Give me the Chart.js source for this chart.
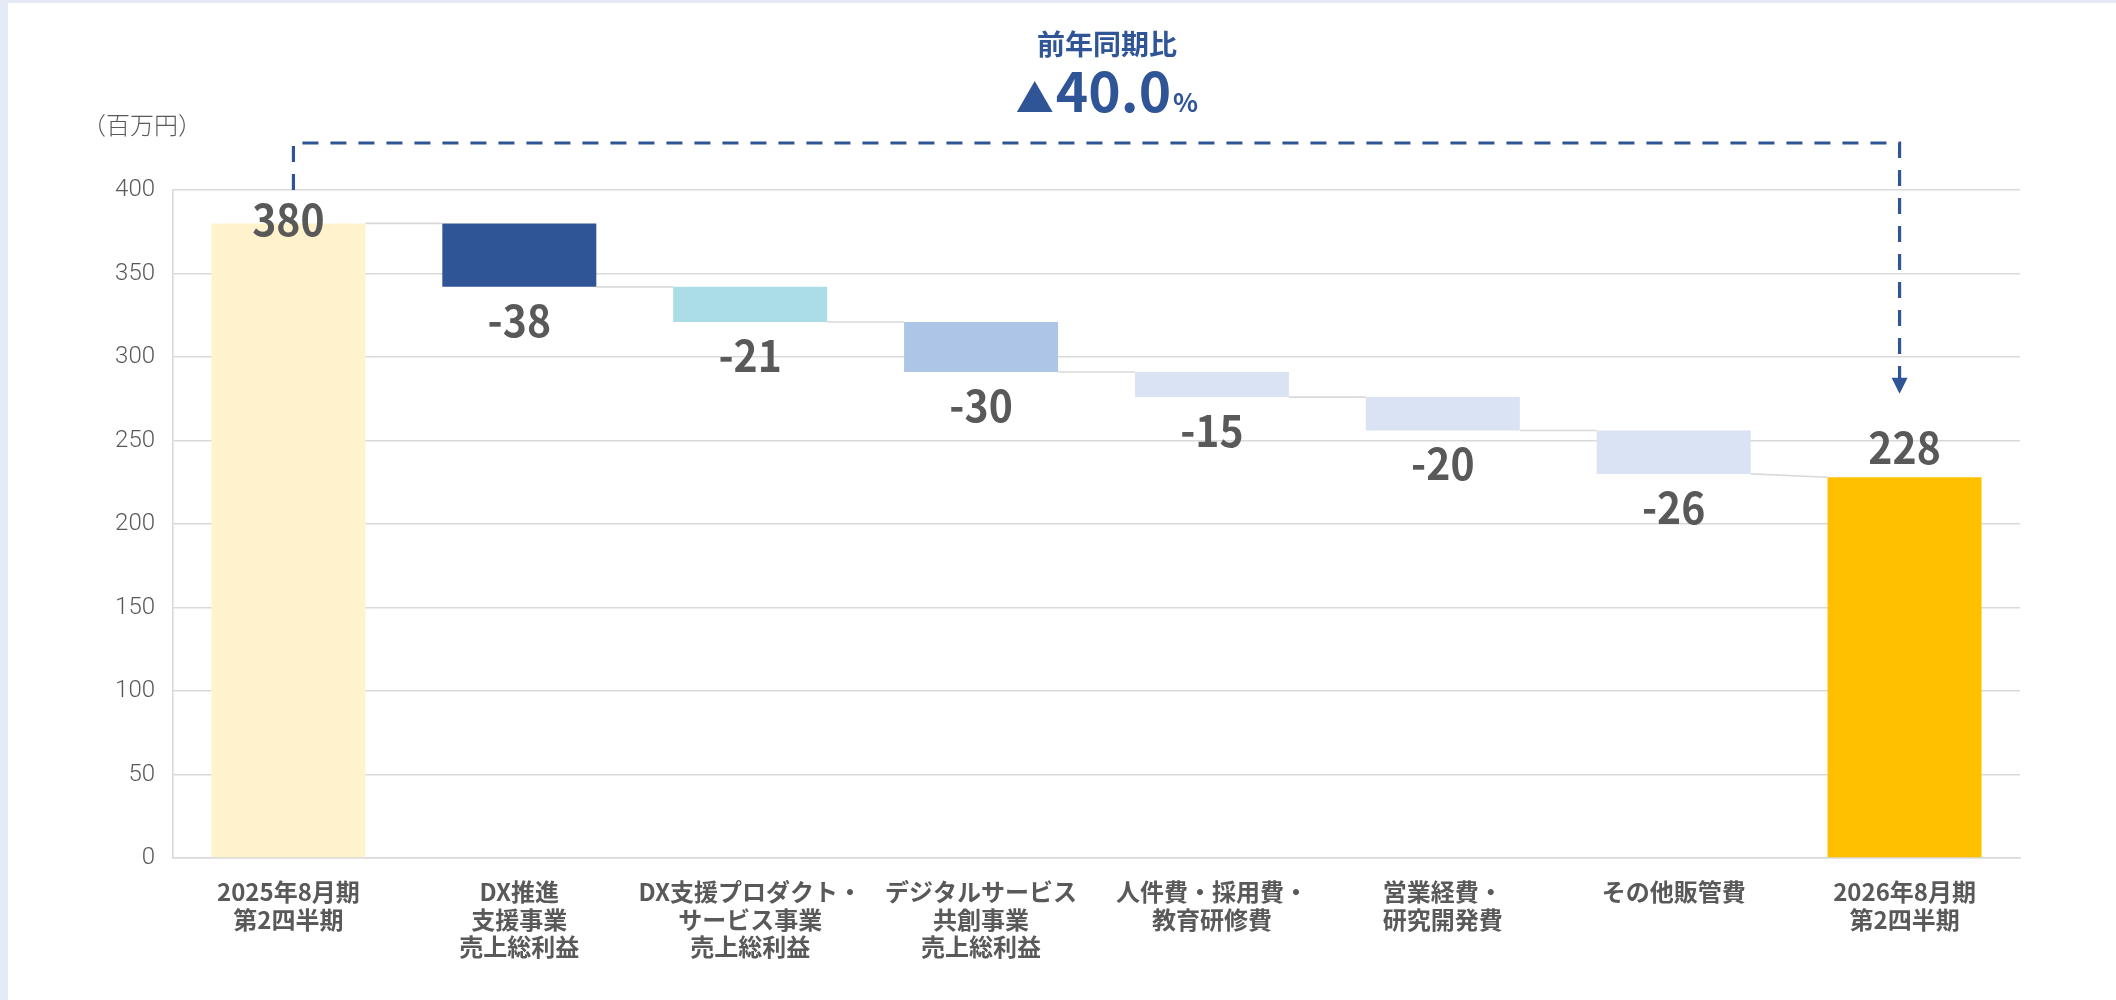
<!DOCTYPE html>
<html><head><meta charset="utf-8">
<script src="https://cdn.jsdelivr.net/npm/chart.js@4.4.1/dist/chart.umd.min.js"></script>
<style>
html,body{margin:0;padding:0;background:#e4eaf6;width:2116px;height:1000px;overflow:hidden}
#panel{position:absolute;left:8px;top:3px;width:2108px;height:997px;background:#fff}
canvas{display:block}
</style></head><body>
<div id="panel"><canvas id="c" width="2108" height="997"></canvas></div>
<script>
// ---- data ----
const categories = [
  ['2025年8月期','第2四半期'],
  ['DX推進','支援事業','売上総利益'],
  ['DX支援プロダクト・','サービス事業','売上総利益'],
  ['デジタルサービス','共創事業','売上総利益'],
  ['人件費・採用費・','教育研修費'],
  ['営業経費・','研究開発費'],
  ['その他販管費'],
  ['2026年8月期','第2四半期']
];
const startValue = 380;
const changes = [-38, -21, -30, -15, -20, -26];
const endValue = 228;
const yMin = 0, yMax = 400, yStep = 50;
const barColors = ['#FFF2CC','#2F5597','#ABDDE6','#ADC6E7','#DAE3F3','#DAE3F3','#DAE3F3','#FFC000'];
const yoyTitle = '前年同期比';
const yoyMark = '▲';
const yoyValue = '40.0';
const yoyUnit = '%';
const unitLabel = '（百万円）';
const arrowTipValue = 278;

// ---- derived ----
const ranges = [[0, startValue]];
const startLevels = [startValue];
const endLevels = [startValue];
let cum = startValue;
changes.forEach(d => { ranges.push([cum + d, cum]); startLevels.push(cum); endLevels.push(cum + d); cum += d; });
ranges.push([0, endValue]); startLevels.push(endValue); endLevels.push(endValue);
const labelValues = [startValue, ...changes, endValue];

const NARROW = '"Liberation Sans Narrow","Noto Sans CJK JP",sans-serif';
const CJK = '"Noto Sans CJK JP",sans-serif';
const BLUE = '#2F5597';
const GREY = '#595959';

const connectors = {
  id: 'connectors',
  beforeDatasetsDraw(chart) {
    const ctx = chart.ctx, y = chart.scales.y, els = chart.getDatasetMeta(0).data;
    ctx.save();
    ctx.strokeStyle = '#d9d9d9'; ctx.lineWidth = 1.6;
    for (let i = 0; i < els.length - 1; i++) {
      const a = els[i], b = els[i + 1];
      ctx.beginPath();
      ctx.moveTo(a.x + a.width / 2, y.getPixelForValue(endLevels[i]));
      ctx.lineTo(b.x - b.width / 2, y.getPixelForValue(startLevels[i + 1]));
      ctx.stroke();
    }
    ctx.restore();
  }
};

const dataLabels = {
  id: 'dataLabels',
  afterDatasetsDraw(chart) {
    const ctx = chart.ctx, y = chart.scales.y, els = chart.getDatasetMeta(0).data, ca = chart.chartArea;
    const sx = 0.93;
    ctx.save();
    ctx.font = 'bold 44px ' + CJK;
    ctx.fillStyle = GREY; ctx.textAlign = 'center'; ctx.textBaseline = 'middle';
    els.forEach((el, i) => {
      const v = labelValues[i];
      let cy;
      if (v < 0) cy = y.getPixelForValue(endLevels[i]) + 33;
      else cy = Math.max(y.getPixelForValue(ranges[i][1]) - 30, ca.top + 29);
      ctx.save();
      ctx.translate(el.x, cy); ctx.scale(sx, 1);
      ctx.fillText(String(v), 0, 0);
      ctx.restore();
    });
    ctx.restore();
  }
};

const annotations = {
  id: 'annotations',
  afterDraw(chart) {
    const ctx = chart.ctx, ca = chart.chartArea, els = chart.getDatasetMeta(0).data, y = chart.scales.y;
    ctx.save();
    // unit label
    ctx.font = '300 24px ' + CJK; ctx.fillStyle = GREY; ctx.textAlign = 'left'; ctx.textBaseline = 'middle';
    ctx.fillText(unitLabel, 74, ca.top - 65);
    // dashed bracket
    const x1 = els[0].x + 5, x2 = els[els.length - 1].x - 5;
    const yTop = ca.top - 47;
    const tip = y.getPixelForValue(arrowTipValue);
    ctx.strokeStyle = BLUE; ctx.lineWidth = 3.2; ctx.setLineDash([16, 12]);
    ctx.beginPath();
    ctx.moveTo(x1, ca.top); ctx.lineTo(x1, yTop); ctx.lineTo(x2, yTop); ctx.lineTo(x2, tip - 14);
    ctx.stroke();
    ctx.setLineDash([]);
    ctx.fillStyle = BLUE;
    ctx.beginPath(); ctx.moveTo(x2 - 8, tip - 16); ctx.lineTo(x2 + 8, tip - 16); ctx.lineTo(x2, tip); ctx.closePath(); ctx.fill();
    // title
    const cx = 1099;
    ctx.textAlign = 'center'; ctx.textBaseline = 'alphabetic';
    ctx.font = 'bold 28px ' + CJK;
    ctx.fillText(yoyTitle, cx, 52);
    // ▲40.0%
    ctx.textAlign = 'left';
    const fMark = '38px ' + CJK, fVal = 'bold 55px ' + CJK, fUnit = 'bold 26px ' + CJK;
    ctx.font = fMark; const wM = ctx.measureText(yoyMark).width;
    ctx.font = fVal; const wV = ctx.measureText(yoyValue).width;
    ctx.font = fUnit; const wU = ctx.measureText(yoyUnit).width;
    const gap = 2;
    let x = cx - (wM + wV + wU + 2 * gap) / 2;
    const base = 109;
    ctx.font = fMark; ctx.fillText(yoyMark, x, base); x += wM + gap;
    ctx.font = fVal; ctx.fillText(yoyValue, x, base); x += wV + gap;
    ctx.font = fUnit; ctx.fillText(yoyUnit, x, base);
    ctx.restore();
  }
};

new Chart(document.getElementById('c'), {
  type: 'bar',
  data: {
    labels: categories,
    datasets: [{ data: ranges, backgroundColor: barColors, borderWidth: 0, barPercentage: 0.667, categoryPercentage: 1 }]
  },
  options: {
    responsive: false, animation: false,
    layout: { padding: { left: 0, right: 96, top: 187, bottom: 0 } },
    plugins: { legend: { display: false }, tooltip: { enabled: false } },
    scales: {
      x: {
        grid: { display: false, drawTicks: false },
        border: { display: true, color: '#d9d9d9', width: 1.6 },
        ticks: { color: GREY, padding: 20, maxRotation: 0, autoSkip: false,
          font: { family: NARROW, size: 24, weight: 'bold', lineHeight: 1.15 } },
        afterFit(s) { s.height = 142; }
      },
      y: {
        min: yMin, max: yMax,
        grid: { color: '#d9d9d9', lineWidth: 1.6, drawTicks: false },
        border: { display: true, color: '#d9d9d9', width: 1.6 },
        ticks: { stepSize: yStep, color: GREY, padding: 18, font: { family: 'Roboto', size: 24, weight: '300' } },
        afterFit(s) { s.width = 165; }
      }
    }
  },
  plugins: [connectors, dataLabels, annotations]
});
</script>
</body></html>
